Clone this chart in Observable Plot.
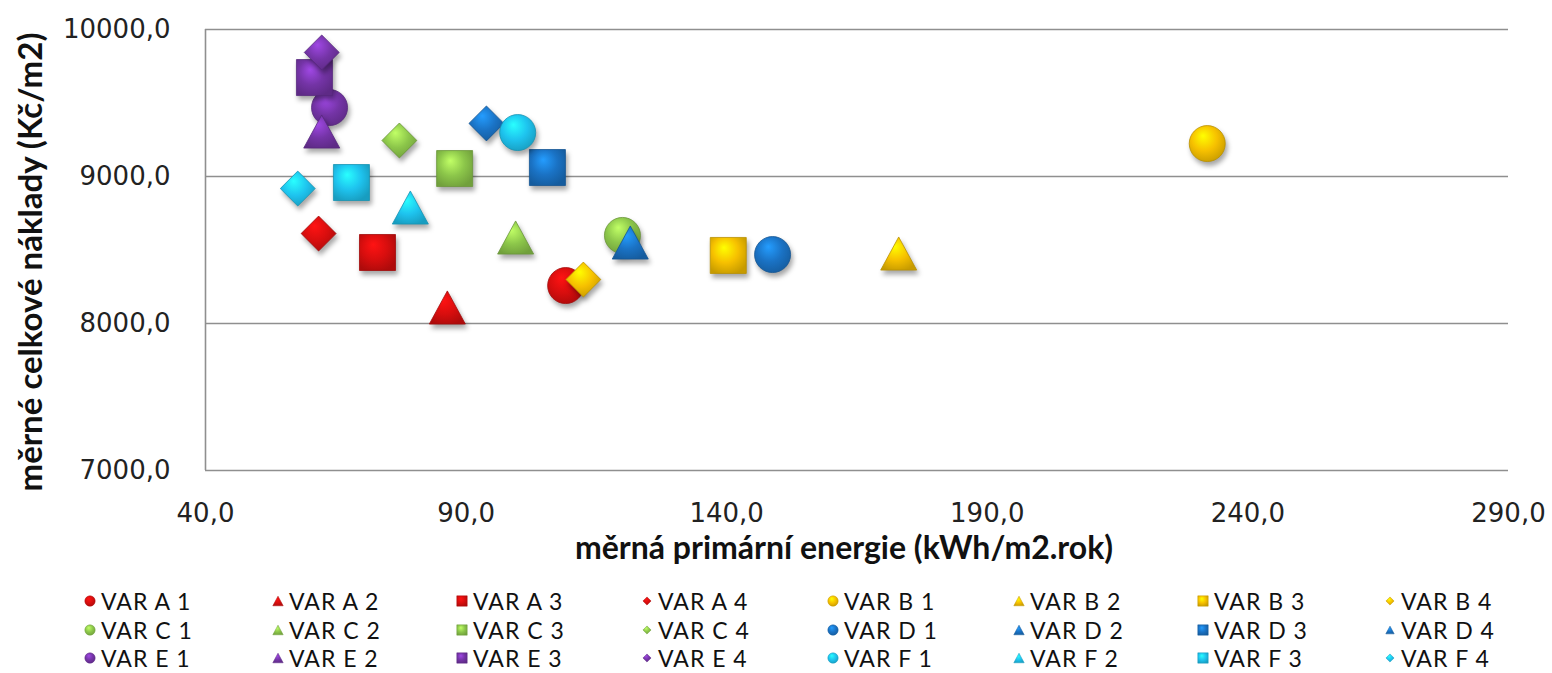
<!DOCTYPE html>
<html>
<head>
<meta charset="utf-8">
<script src="https://cdn.jsdelivr.net/npm/d3@7"></script>
<script src="https://cdn.jsdelivr.net/npm/@observablehq/plot@0.6"></script>
<style>
  html, body { margin: 0; padding: 0; background: #fff; }
  #wrap { position: relative; width: 1552px; height: 673px; overflow: hidden; }
  #chart svg { display: block; }
  g[aria-label="dot"] path { filter: drop-shadow(2px 4px 2.5px rgba(0,0,0,0.35)); }
  .leg { position: absolute; height: 24px; display: flex; align-items: center;
         font-family: Lato, "Open Sans", sans-serif; font-size: 23px; letter-spacing: 1px; color: #111; white-space: nowrap; }
  .leg svg { display: block; margin-right: 4px; }
  #ytitle { position: absolute; left: 29px; top: 262px; transform: translate(-50%, -50%) rotate(-90deg);
            font-family: Lato, "Open Sans", sans-serif; font-weight: bold; font-size: 33px; color: #111; white-space: nowrap; }
</style>
</head>
<body>
<div id="wrap">
  <div id="chart"></div>
  <div id="ytitle"></div>
  <div id="legend"></div>
</div>
<script>
// ---- data ----
const labels = [
  "VAR A 1","VAR A 2","VAR A 3","VAR A 4",
  "VAR B 1","VAR B 2","VAR B 3","VAR B 4",
  "VAR C 1","VAR C 2","VAR C 3","VAR C 4",
  "VAR D 1","VAR D 2","VAR D 3","VAR D 4",
  "VAR E 1","VAR E 2","VAR E 3","VAR E 4",
  "VAR F 1","VAR F 2","VAR F 3","VAR F 4"
];
const energy = [
  109.1, 86.4, 73.0, 61.7,
  232.2, 173.0, 140.3, 112.5,
  120.0, 99.5, 87.8, 77.2,
  148.8, 121.5, 105.6, 93.9,
  63.8, 62.3, 60.9, 62.3,
  99.9, 79.3, 68.0, 57.7
];
const cost = [
  8258, 8109, 8483, 8612,
  9224, 8476, 8463, 8299,
  8599, 8585, 9054, 9245,
  8469, 8551, 9061, 9361,
  9469, 9306, 9673, 9844,
  9299, 8789, 8959, 8918
];
// marker shape per variant number 1..4 (legend glyph for D 4 is drawn as a small triangle in the original)
const plotShapes = ["circle","triangle","square","diamond"];
const groupColors = {A: "#d80e0e", B: "#f6c000", C: "#8cc64a", D: "#1a72c4", E: "#7434a6", F: "#1ec3ee"};
const xTicks = [40, 90, 140, 190, 240, 290];
const yTicks = [7000, 8000, 9000, 10000];
const xTitle = "měrná primární energie (kWh/m2.rok)";
const yTitle = "měrné celkové náklady (Kč/m2)";

// ---- custom Excel-like symbols (all share the same r) ----
const symbols = {
  circle: {draw(c, size) { const R = Math.sqrt(size / Math.PI); c.moveTo(R, 0); c.arc(0, 0, R, 0, 2 * Math.PI); c.closePath(); }},
  square: {draw(c, size) { const R = Math.sqrt(size / Math.PI); c.rect(-R, -R, 2 * R, 2 * R); }},
  diamond: {draw(c, size) { const R = Math.sqrt(size / Math.PI) * 0.97; c.moveTo(0, -R); c.lineTo(R, 0); c.lineTo(0, R); c.lineTo(-R, 0); c.closePath(); }},
  triangle: {draw(c, size) { const R = Math.sqrt(size / Math.PI); const h = R * 0.92; c.moveTo(0, -h); c.lineTo(R, h); c.lineTo(-R, h); c.closePath(); }}
};

const data = labels.map((label, i) => ({
  label,
  group: label.split(" ")[1],
  n: +label.split(" ")[2],
  energy: energy[i],
  cost: cost[i]
}));

const fmt = d => d.toFixed(1).replace(".", ",");
const tickFont = "DejaVu Sans, Verdana, sans-serif";
const titleFont = "Lato, 'Open Sans', sans-serif";

const chart = Plot.plot({
  width: 1552,
  height: 570,
  marginLeft: 205,
  marginRight: 44,
  marginTop: 29,
  marginBottom: 100,
  style: {background: "transparent", overflow: "visible"},
  x: {domain: [40, 290]},
  y: {domain: [7000, 10000]},
  color: {type: "identity"},
  symbol: {type: "identity"},
  marks: [
    Plot.ruleY(yTicks.filter(t => t > 7000), {stroke: "#8f8f8f", strokeWidth: 1.6}),
    Plot.ruleY([7000], {stroke: "#8f8f8f", strokeWidth: 1.6}),
    Plot.ruleX([40], {stroke: "#8f8f8f", strokeWidth: 1.6}),
    Plot.axisX({ticks: xTicks, tickFormat: fmt, tickSize: 0, tickPadding: 33, label: null,
      fontSize: 26, fontFamily: tickFont, fill: "#222"}),
    Plot.axisY({ticks: yTicks, tickFormat: fmt, tickSize: 0, tickPadding: 35, label: null,
      fontSize: 26, fontFamily: tickFont, fill: "#222"}),
    Plot.dot(data, {
      x: "energy", y: "cost", r: 18,
      symbol: d => symbols[plotShapes[d.n - 1]],
      fill: d => `url(#grad-${d.group})`,
      stroke: d => d3.color(groupColors[d.group]).darker(0.8).formatHex(),
      strokeWidth: 0.8
    }),
    Plot.text([xTitle], {frameAnchor: "bottom", dx: -13, dy: 88, text: d => d,
      fontSize: 32, fontWeight: "bold", fontFamily: titleFont, fill: "#111"})
  ]
});

// gradients for glossy markers
const svgSel = d3.select(chart.tagName === "svg" ? chart : chart.querySelector("svg"));
const defs = svgSel.insert("defs", ":first-child");
for (const [g, col] of Object.entries(groupColors)) {
  const base = d3.color(col);
  const grad = defs.append("radialGradient").attr("id", `grad-${g}`)
    .attr("cx", "45%").attr("cy", "40%").attr("r", "65%").attr("fx", "38%").attr("fy", "28%");
  grad.append("stop").attr("offset", "0%").attr("stop-color", base.brighter(0.9).formatHex());
  grad.append("stop").attr("offset", "55%").attr("stop-color", base.formatHex());
  grad.append("stop").attr("offset", "100%").attr("stop-color", base.darker(0.6).formatHex());
}
document.getElementById("chart").appendChild(chart);
document.getElementById("ytitle").textContent = yTitle;

// ---- legend ----
const legendShapes = ["circle","triangle","square","diamond"];
const legend = document.getElementById("legend");
const colX = [90, 278, 462, 647, 833, 1019, 1203, 1390];
const rowY = [601, 630, 658];
labels.forEach((label, i) => {
  const row = Math.floor(i / 8), col = i % 8;
  const group = label.split(" ")[1];
  const n = +label.split(" ")[2];
  let shape = legendShapes[n - 1];
  if (label === "VAR D 4") shape = "triangle";
  const item = document.createElement("div");
  item.className = "leg";
  item.style.left = (colX[col] - 7) + "px";
  item.style.top = (rowY[row] - 12) + "px";
  const s = d3.create("svg").attr("width", 14).attr("height", 14);
  const small = (shape === "diamond" || label === "VAR D 4") ? 4.2 : 5.2;
  s.append("path")
    .attr("transform", "translate(7,7)")
    .attr("d", d3.symbol(symbols[shape], small * small * Math.PI)())
    .attr("fill", `url(#grad-${group})`)
    .attr("stroke", d3.color(groupColors[group]).darker(0.6).formatHex())
    .attr("stroke-width", 0.5);
  item.appendChild(s.node());
  const t = document.createElement("span");
  t.textContent = label;
  item.appendChild(t);
  legend.appendChild(item);
});
</script>
</body>
</html>
